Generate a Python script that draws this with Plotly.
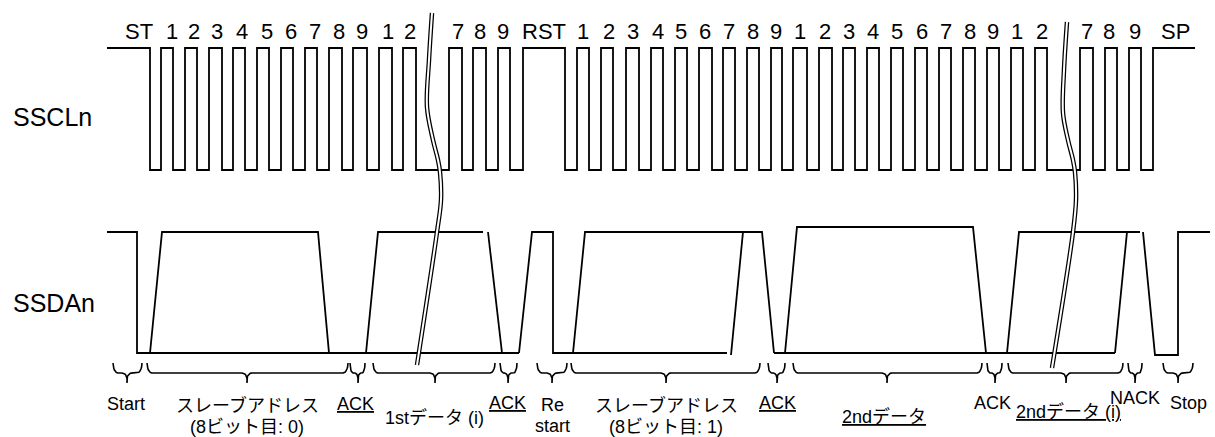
import math
import plotly.graph_objects as go

W, H = 1215, 437

# ---- SCL waveform ----
SCL_HI, SCL_LO = 48, 170
SCL_BEGIN, SCL_END = 107, 1195
scl_edges = [150, 161, 173, 185, 197, 209, 222, 233, 245, 257, 269, 281, 293, 305, 317, 329, 342, 353, 367,
             379, 392, 403, 416,
             449, 462, 473, 486, 498, 510, 523, 565,
             577, 589, 601, 613, 626, 639, 651, 663, 675, 687, 699, 712, 723, 735, 747, 759, 771, 782,
             793, 807, 819, 832, 843, 855, 867, 879, 891, 903, 915, 927, 939, 951, 963, 975, 987, 999,
             1011, 1023, 1035, 1047, 1080, 1093, 1105, 1117, 1129, 1141, 1153]

top_labels = ["ST", "1", "2", "3", "4", "5", "6", "7", "8", "9", "1", "2", "7", "8", "9", "RST",
              "1", "2", "3", "4", "5", "6", "7", "8", "9", "1", "2", "3", "4", "5", "6", "7", "8", "9",
              "1", "2", "7", "8", "9", "SP"]
top_label_x = [139, 172, 194, 217, 242, 267, 291, 315, 339, 362, 388, 410, 458, 480, 503, 544,
               583, 609, 633, 658, 681, 705, 729, 753, 776, 800, 825, 849, 873, 897, 922, 946, 970, 993,
               1017, 1042, 1087, 1109, 1135, 1175]

# ---- SDA waveform (polylines: x list, level list) ----
SDA_HI, SDA_HI2, SDA_LO, SDA_LO2 = 232, 227, 353, 355
sda_x = [
    [107, 137, 137, 519],
    [150, 162, 318, 329],
    [366, 378, 483],
    [488, 502],
    [519, 532, 553, 553, 727],
    [573, 585, 762, 774],
    [731, 743],
    [774, 1115],
    [785, 797, 973, 986],
    [1007, 1019, 1140],
    [1115, 1127],
    [1143, 1155, 1178, 1178, 1210],
]
sda_y = [
    [SDA_HI, SDA_HI, SDA_LO, SDA_LO],
    [SDA_LO, SDA_HI, SDA_HI, SDA_LO],
    [SDA_LO, SDA_HI, SDA_HI],
    [SDA_HI, SDA_LO],
    [SDA_LO, SDA_HI, SDA_HI, SDA_LO, SDA_LO],
    [SDA_LO, SDA_HI, SDA_HI, SDA_LO],
    [SDA_LO2, SDA_HI],
    [SDA_LO, SDA_LO],
    [SDA_LO, SDA_HI2, SDA_HI2, SDA_LO],
    [SDA_LO, SDA_HI, SDA_HI],
    [SDA_LO, SDA_HI],
    [SDA_HI, SDA_LO2, SDA_LO2, SDA_HI, SDA_HI],
]

# ---- break (omission) marks ----
break_x = [[432, 429, 427, 433, 438, 440, 441, 437, 417],
           [1067, 1064, 1063, 1068, 1073, 1075, 1076, 1073, 1052]]
break_y = [[13, 60, 107, 140, 160, 172, 200, 232, 365],
           [22, 70, 113, 140, 160, 172, 200, 232, 368]]

# ---- braces: start, end, tip ----
BR_TOP, BR_MID, BR_TIP = 363, 373, 383
brace_x0 = [113, 147, 350, 373, 500, 537, 571, 768, 793, 987, 1008, 1128, 1163]
brace_x1 = [142, 348, 365, 495, 517, 567, 760, 785, 982, 1002, 1123, 1142, 1193]
brace_tip = [127, 247, 358, 435, 508, 552, 666, 777, 887, 995, 1066, 1135, 1178]

# ---- bottom labels ----
bottom_text = ["Start", "スレーブアドレス", "(8ビット目: 0)", "<u>ACK</u>", "1stデータ (i)", "<u>ACK</u>",
               "Re", "start", "スレーブアドレス", "(8ビット目: 1)", "<u>ACK</u>", "<u>2ndデータ</u>",
               "ACK", "<u>2ndデータ (i)</u>", "NACK", "Stop"]
bottom_x = [126, 247, 247, 355, 434, 507, 552, 552, 666, 666, 777, 884, 992, 1068, 1135, 1188]
bottom_y = [404, 405, 427, 404, 418, 403, 405, 426, 405, 427, 403, 417, 403, 412, 398, 403]

side_text = ["SSCLn", "SSDAn"]
side_y = [117, 303]

FONT = "Liberation Sans, Arial, Noto Sans CJK JP, sans-serif"

# ---- build traces ----
sx, sy = [SCL_BEGIN], [SCL_HI]
level = SCL_HI
for e in scl_edges:
    sx.append(e); sy.append(level)
    level = SCL_LO if level == SCL_HI else SCL_HI
    sx.append(e); sy.append(level)
sx.append(SCL_END); sy.append(level)

dx, dy = [], []
for xs, ys in zip(sda_x, sda_y):
    dx += xs + [None]
    dy += ys + [None]

def brace(x0, x1, xt):
    r = min(5.0, (x1 - x0) / 5.0)
    h = BR_MID - BR_TOP
    d = (BR_TIP - BR_MID) * 0.6
    pts = []
    n = 8
    for i in range(n + 1):
        a = math.pi / 2 * i / n
        pts.append((x0 + r * (1 - math.cos(a)), BR_TOP + h * math.sin(a)))
    for i in range(n + 1):
        a = math.pi / 2 * i / n
        pts.append((xt - r + r * math.sin(a), BR_MID + d * (1 - math.cos(a))))
    pts.append((xt, BR_TIP))
    pts.append((xt, BR_MID + d))
    for i in range(n + 1):
        a = math.pi / 2 * (1 - i / n)
        pts.append((xt + r - r * math.sin(a), BR_MID + d * (1 - math.cos(a))))
    for i in range(n + 1):
        a = math.pi / 2 * (1 - i / n)
        pts.append((x1 - r * (1 - math.cos(a)), BR_TOP + h * math.sin(a)))
    return pts

bx, by = [], []
for a, b, t in zip(brace_x0, brace_x1, brace_tip):
    for p in brace(a, b, t):
        bx.append(p[0]); by.append(p[1])
    bx.append(None); by.append(None)

fig = go.Figure()
LW = 1.8
fig.add_trace(go.Scatter(x=sx, y=sy, mode="lines", line=dict(color="black", width=LW), hoverinfo="skip"))
fig.add_trace(go.Scatter(x=dx, y=dy, mode="lines", line=dict(color="black", width=LW), hoverinfo="skip"))
fig.add_trace(go.Scatter(x=bx, y=by, mode="lines", line=dict(color="black", width=1.6), hoverinfo="skip"))
for xs, ys in zip(break_x, break_y):
    fig.add_trace(go.Scatter(x=xs, y=ys, mode="lines", line=dict(color="black", width=4.5, shape="spline"),
                             hoverinfo="skip"))
    fig.add_trace(go.Scatter(x=xs, y=ys, mode="lines", line=dict(color="white", width=2, shape="spline"),
                             hoverinfo="skip"))

ann = []
for t, x in zip(top_labels, top_label_x):
    ann.append(dict(x=x, y=31, text=t, showarrow=False, xanchor="center", yanchor="middle",
                    font=dict(family=FONT, size=22, color="black")))
for t, y in zip(side_text, side_y):
    ann.append(dict(x=11, y=y, text=t, showarrow=False, xanchor="left", yanchor="middle",
                    font=dict(family=FONT, size=25, color="black")))
for t, x, y in zip(bottom_text, bottom_x, bottom_y):
    ann.append(dict(x=x, y=y, text=t, showarrow=False, xanchor="center", yanchor="middle",
                    font=dict(family=FONT, size=18, color="black")))

fig.update_layout(
    width=W, height=H, margin=dict(l=0, r=0, t=0, b=0),
    paper_bgcolor="white", plot_bgcolor="white", showlegend=False,
    xaxis=dict(range=[0, W], visible=False, fixedrange=True),
    yaxis=dict(range=[H, 0], visible=False, fixedrange=True),
    annotations=ann,
)
fig.write_html("out.html", config={"displayModeBar": False},
               post_script="document.body.style.margin='0px';document.body.style.overflow='hidden';")
